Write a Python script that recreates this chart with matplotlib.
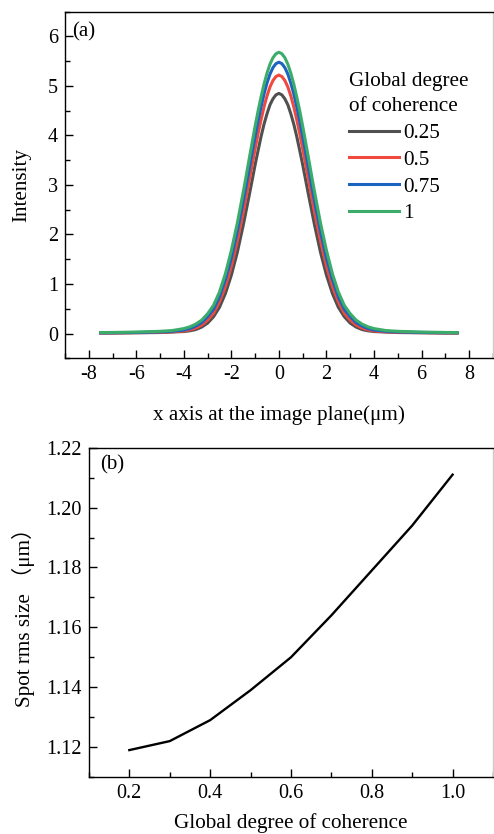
# Intensity profiles at the image plane and spot rms size vs. global degree of coherence
import numpy as np
import matplotlib.pyplot as plt
from matplotlib.ticker import MultipleLocator

plt.rcParams['font.family'] = ['Liberation Serif', 'Noto Sans CJK SC']
plt.rcParams['font.size'] = 14.5
plt.rcParams['axes.unicode_minus'] = False

# ---- panel (a): half profiles (x >= 0), curves are symmetric
x_half = [0, 0.125, 0.25, 0.375, 0.5, 0.625, 0.75, 0.875, 1.0, 1.125, 1.25, 1.375,
          1.5, 1.75, 2.0, 2.25, 2.5, 2.75, 3.0, 3.25, 3.5, 3.75, 4.0, 4.5, 5.0,
          6.0, 7.0, 7.5]
I_025 = [4.85, 4.82, 4.74, 4.62, 4.44, 4.23, 3.98, 3.70, 3.41, 3.10, 2.79, 2.49,
         2.19, 1.64, 1.18, 0.81, 0.53, 0.34, 0.21, 0.13, 0.08, 0.055, 0.04, 0.03,
         0.02, 0.015, 0.01, 0.01]
I_050 = [5.22, 5.19, 5.11, 4.98, 4.80, 4.58, 4.32, 4.04, 3.73, 3.41, 3.09, 2.77,
         2.45, 1.87, 1.36, 0.95, 0.64, 0.41, 0.27, 0.17, 0.11, 0.075, 0.05, 0.035,
         0.025, 0.018, 0.013, 0.012]
I_075 = [5.48, 5.45, 5.37, 5.24, 5.06, 4.84, 4.58, 4.29, 3.98, 3.66, 3.32, 2.99,
         2.67, 2.06, 1.52, 1.09, 0.74, 0.49, 0.34, 0.22, 0.15, 0.10, 0.07, 0.045,
         0.032, 0.022, 0.016, 0.014]
I_100 = [5.68, 5.65, 5.57, 5.44, 5.26, 5.04, 4.78, 4.50, 4.19, 3.86, 3.53, 3.19,
         2.86, 2.23, 1.68, 1.21, 0.84, 0.57, 0.40, 0.27, 0.19, 0.135, 0.10, 0.06,
         0.045, 0.03, 0.022, 0.02]
labels = ['0.25', '0.5', '0.75', '1']
colors = ['#505050', '#ef4a3d', '#1d63c0', '#3cac6a']

# ---- panel (b)
coh = [0.2, 0.3, 0.4, 0.5, 0.6, 0.7, 0.8, 0.9, 1.0]
rms = [1.119, 1.122, 1.129, 1.139, 1.150, 1.164, 1.179, 1.194, 1.211]


def mirror(xs, ys):
    xs = np.array(xs)
    ys = np.array(ys)
    return np.concatenate([-xs[:0:-1], xs]), np.concatenate([ys[:0:-1], ys])


fig = plt.figure(figsize=(4.94, 8.34), dpi=100)
ax1 = fig.add_axes([0.1316, 0.5704, 0.866, 0.4156])
ax2 = fig.add_axes([0.180, 0.0683, 0.818, 0.3949])

for prof, lab, c in zip([I_025, I_050, I_075, I_100], labels, colors):
    xx, yy = mirror(x_half, prof)
    ax1.plot(xx, yy, color=c, lw=2.2, label=lab, solid_joinstyle='round')

ax1.set_xlim(-9, 9)
ax1.set_ylim(-0.5, 6.5)
ax1.xaxis.set_major_locator(MultipleLocator(2))
ax1.xaxis.set_minor_locator(MultipleLocator(1))
ax1.yaxis.set_major_locator(MultipleLocator(1))
ax1.yaxis.set_minor_locator(MultipleLocator(0.5))
ax1.set_xlabel('x axis at the image plane(μm)', fontsize=15.2, labelpad=15)
ax1.set_ylabel('Intensity', fontsize=15.2, labelpad=12)
ax1.text(0.016, 0.941, '(a)', transform=ax1.transAxes, ha='left', va='center',
         fontsize=15)
leg = ax1.legend(title='Global degree\nof coherence', loc='upper left',
                 bbox_to_anchor=(0.663, 0.826), frameon=False, borderpad=0,
                 borderaxespad=0, handlelength=2.4, handletextpad=0.2,
                 labelspacing=0.33, fontsize=15.2, title_fontsize=15.2)
leg._legend_box.align = 'left'
leg.get_title().set_linespacing(1.45)

ax2.plot(coh, rms, color='black', lw=1.7)
ax2.set_xlim(0.1, 1.1)
ax2.set_ylim(1.11, 1.22)
ax2.xaxis.set_major_locator(MultipleLocator(0.2))
ax2.xaxis.set_minor_locator(MultipleLocator(0.1))
ax2.yaxis.set_major_locator(MultipleLocator(0.02))
ax2.yaxis.set_minor_locator(MultipleLocator(0.01))
ax2.set_xticks([0.2, 0.4, 0.6, 0.8, 1.0])
ax2.set_xticklabels(['0.2', '0.4', '0.6', '0.8', '1.0'])
ax2.set_xlabel('Global degree of coherence', fontsize=15.2, labelpad=7)
ax2.set_ylabel('Spot rms size （μm）', fontsize=15.2, labelpad=8)
ax2.text(0.027, 0.948, '(b)', transform=ax2.transAxes, ha='left', va='center',
         fontsize=15)

for ax in (ax1, ax2):
    ax.tick_params(which='both', direction='in', top=False, right=False, width=1.0)
    ax.tick_params(which='major', length=6, pad=5)
    ax.tick_params(which='minor', length=3.5)
    for sp in ax.spines.values():
        sp.set_linewidth(1.0)
    ax.spines['right'].set_color('#cccccc')

fig.savefig('out.png', dpi=100)
